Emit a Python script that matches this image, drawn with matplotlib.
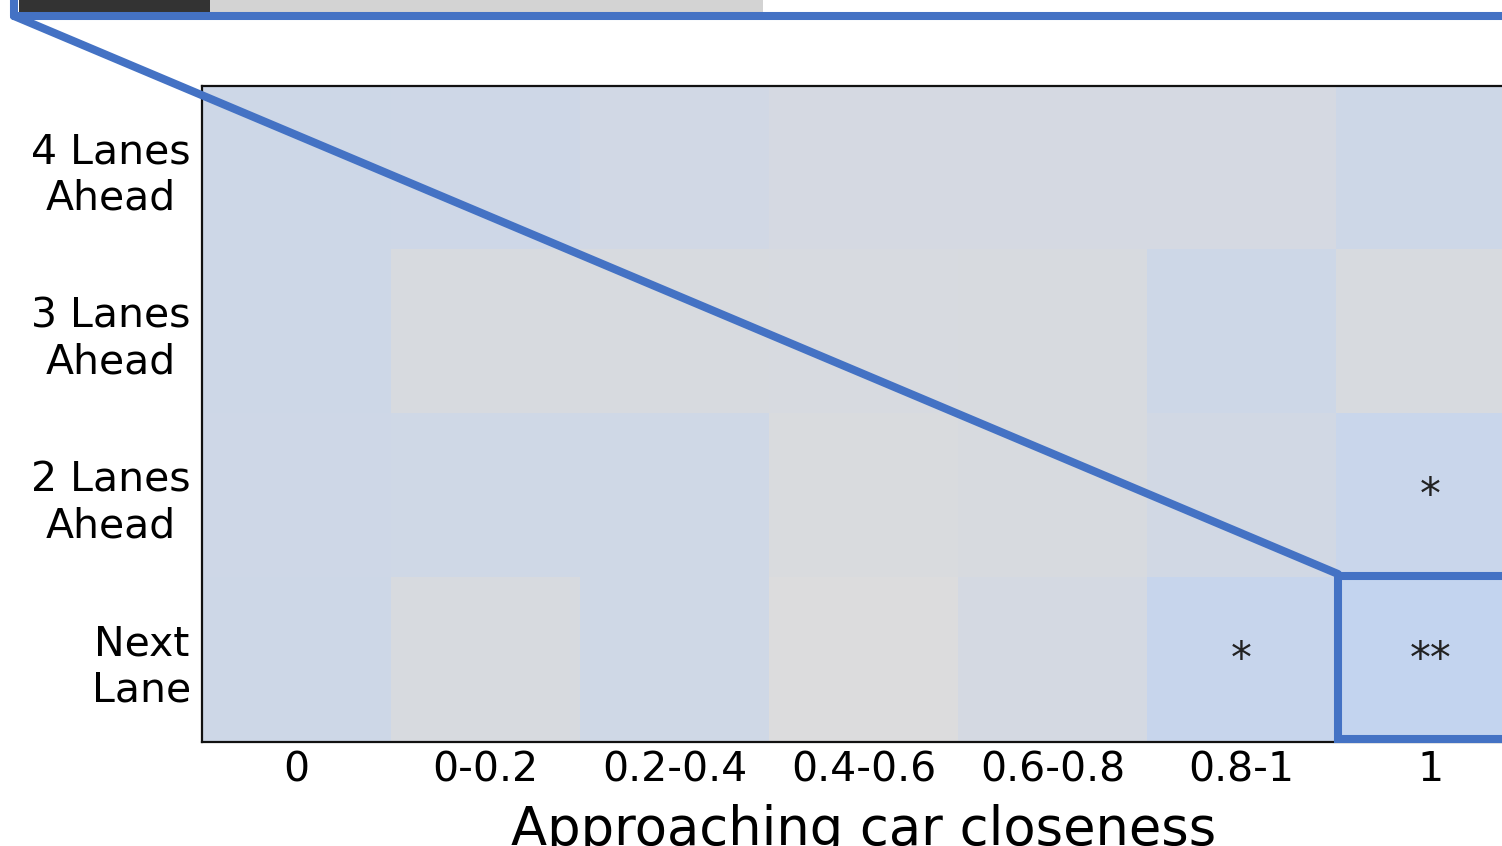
import matplotlib
matplotlib.use("Agg")
import matplotlib.pyplot as plt
from matplotlib.colors import LinearSegmentedColormap
from matplotlib.patches import Rectangle
from matplotlib.lines import Line2D
import numpy as np

# ---- data ----
x_labels = ["0", "0-0.2", "0.2-0.4", "0.4-0.6", "0.6-0.8", "0.8-1", "1"]
y_labels = ["4 Lanes\nAhead", "3 Lanes\nAhead", "2 Lanes\nAhead", "Next\nLane"]
row_4_lanes = [0.55, 0.50, 0.40, 0.25, 0.25, 0.25, 0.55]
row_3_lanes = [0.55, 0.15, 0.15, 0.18, 0.15, 0.55, 0.15]
row_2_lanes = [0.50, 0.45, 0.45, 0.08, 0.15, 0.38, 0.70]
row_next_lane = [0.55, 0.15, 0.45, 0.00, 0.28, 0.75, 0.90]
stars_4_lanes = ["", "", "", "", "", "", ""]
stars_3_lanes = ["", "", "", "", "", "", ""]
stars_2_lanes = ["", "", "", "", "", "", "*"]
stars_next_lane = ["", "", "", "", "", "*", "**"]

values = np.array([row_4_lanes, row_3_lanes, row_2_lanes, row_next_lane])
stars = [stars_4_lanes, stars_3_lanes, stars_2_lanes, stars_next_lane]

W, H = 1502, 846
fig = plt.figure(figsize=(W / 100, H / 100), dpi=100)

def fx(px):
    return px / W

def fy(py):
    return 1 - py / H

ax_left, ax_right, ax_top, ax_bottom = 202, 1525, 86, 742
ax = fig.add_axes([fx(ax_left), fy(ax_bottom), fx(ax_right - ax_left), (ax_bottom - ax_top) / H])

cmap = LinearSegmentedColormap.from_list("gb", ["#dcdcdd", "#c1d4f1"])
ax.imshow(values, cmap=cmap, vmin=0, vmax=1, aspect="auto", interpolation="nearest")

for i in range(values.shape[0]):
    for j in range(values.shape[1]):
        if stars[i][j]:
            ax.text(j, i, stars[i][j], ha="center", va="center", fontsize=30, color="#222222")

ax.set_xticks(range(len(x_labels)))
ax.set_xticklabels(x_labels, fontsize=29.5)
ax.set_yticks(range(len(y_labels)))
ax.set_yticklabels(y_labels, fontsize=29.5, multialignment="center", linespacing=1.2)
ax.tick_params(length=0, pad=8)
ax.tick_params(axis="x", pad=6)
ax.set_xlabel("Approaching car closeness", fontsize=38, labelpad=10)
for sp in ax.spines.values():
    sp.set_linewidth(1.6)
    sp.set_color("#111111")

# highlight rectangle around last cell (Next Lane, 1)
hl = Rectangle((5.51, 2.49), 1.0, 0.99, fill=False, edgecolor="#4472c4", linewidth=5.8,
               clip_on=False, zorder=5)
ax.add_patch(hl)

# ---- top partial panel and zoom connector (figure coords) ----
fig.patches.append(Rectangle((fx(19), fy(12)), fx(210) - fx(19), 12 / H + 0.01,
                             transform=fig.transFigure, facecolor="#333333", edgecolor="none", zorder=1))
fig.patches.append(Rectangle((fx(210), fy(12)), fx(763) - fx(210), 12 / H + 0.01,
                             transform=fig.transFigure, facecolor="#d3d3d3", edgecolor="none", zorder=1))
blue = "#4472c4"
fig.lines.append(Line2D([fx(14), fx(1520)], [fy(16), fy(16)], transform=fig.transFigure,
                        color=blue, linewidth=5.8, solid_capstyle="round", zorder=3))
fig.lines.append(Line2D([fx(14), fx(14)], [fy(16), fy(-20)], transform=fig.transFigure,
                        color=blue, linewidth=5.8, solid_capstyle="round", zorder=3))
fig.lines.append(Line2D([fx(14), fx(1338)], [fy(16), fy(574)], transform=fig.transFigure,
                        color=blue, linewidth=5.8, solid_capstyle="round", zorder=10))

fig.savefig("out.png", dpi=100)
